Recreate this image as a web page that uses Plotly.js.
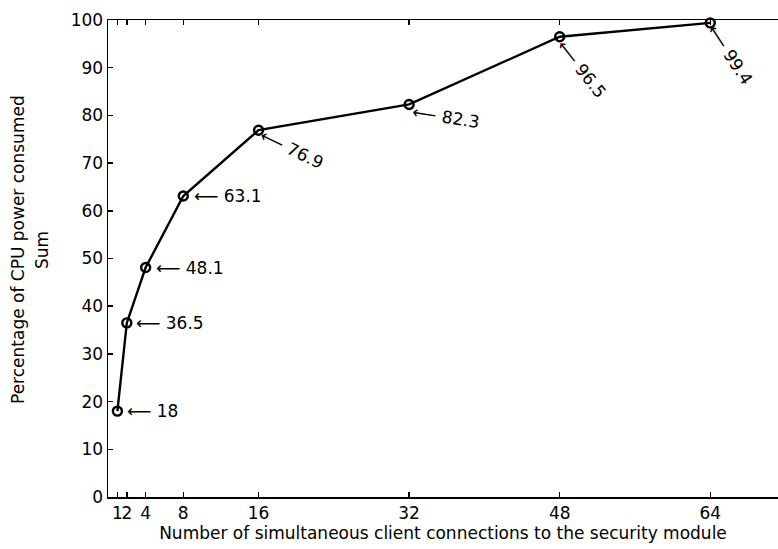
<!DOCTYPE html>
<html>
<head>
<meta charset="utf-8">
<script src="https://cdn.plot.ly/plotly-3.0.1.min.js"></script>
<style>
  html, body { margin: 0; padding: 0; background: #fff; }
  #chart { width: 778px; height: 549px; }
</style>
</head>
<body>
<div id="chart"></div>
<script>
// Client connections vs. CPU power consumed (sum)
const connections = [1, 2, 4, 8, 16, 32, 48, 64];
const cpuPercent = [18, 36.5, 48.1, 63.1, 76.9, 82.3, 96.5, 99.4];
const xTickVals = [1, 2, 4, 8, 16, 32, 48, 64];
const xTickText = ['1', '2', '4', '8', '16', '32', '48', '64'];
const yTickVals = [0, 10, 20, 30, 40, 50, 60, 70, 80, 90, 100];
const yTitleLines = ['Percentage of CPU power consumed', 'Sum'];
const xTitle = 'Number of simultaneous client connections to the security module';

// label placement per point: [angle, dx, dy] in pixels from the marker
const labelPlacement = [
  [0, 8, 0], [0, 7, 0], [0, 8, 0], [0, 9, 0],
  [26, 33, 19], [9, 37, 13], [52, 22, 32], [57, 20, 32]
];

const FONT = 'DejaVu Sans, Liberation Sans, Arial, sans-serif';
const FS = 17;
const black = '#000';

const annotations = connections.map((x, i) => {
  const [ang, dx, dy] = labelPlacement[i];
  const txt = '\u27F5 ' + String(cpuPercent[i]);
  const a = {
    x: x, y: cpuPercent[i], xref: 'x', yref: 'y', text: txt,
    showarrow: false, yanchor: 'middle',
    xshift: dx, yshift: -dy,
    font: {family: FONT, size: FS, color: black}
  };
  if (ang === 0) {
    a.xanchor = 'left';
  } else {
    a.xanchor = 'center';
    a.textangle = ang;
  }
  return a;
});

// two-line vertical axis caption, one annotation per line
const plotLeft = 108, plotW = 670, plotTop = 20, plotH = 477;
const yTitleX = [18, 42];
yTitleLines.forEach((t, i) => {
  annotations.push({
    xref: 'paper', yref: 'paper',
    x: (yTitleX[i] - plotLeft) / plotW,
    y: 1 - (250 - plotTop) / plotH,
    text: t, showarrow: false, textangle: -90,
    xanchor: 'center', yanchor: 'middle',
    font: {family: FONT, size: FS, color: black}
  });
});

const trace = {
  x: connections,
  y: cpuPercent,
  type: 'scatter',
  mode: 'lines+markers',
  line: {color: black, width: 2.4},
  marker: {symbol: 'circle-open', size: 9, color: black, line: {width: 2.4, color: black}},
  cliponaxis: false,
  showlegend: false,
  hoverinfo: 'skip'
};

const layout = {
  width: 778,
  height: 549,
  margin: {l: plotLeft, r: 0, t: plotTop, b: 549 - plotTop - plotH, pad: 0},
  paper_bgcolor: '#fff',
  plot_bgcolor: '#fff',
  font: {family: FONT, size: FS, color: black},
  showlegend: false,
  xaxis: {
    range: [0, 71.2],
    tickvals: xTickVals,
    ticktext: xTickText,
    tickangle: 0,
    ticks: 'inside',
    ticklen: 5,
    tickwidth: 1.5,
    tickcolor: black,
    showline: true,
    linecolor: black,
    linewidth: 1.5,
    mirror: 'ticks',
    showgrid: false,
    zeroline: false,
    tickfont: {family: FONT, size: FS, color: black},
    title: {text: xTitle, font: {family: FONT, size: FS, color: black}, standoff: 4}
  },
  yaxis: {
    range: [0, 100],
    tickvals: yTickVals,
    ticks: 'inside',
    ticklen: 5,
    tickwidth: 1.5,
    tickcolor: black,
    showline: true,
    linecolor: black,
    linewidth: 1.5,
    mirror: false,
    showgrid: false,
    zeroline: false,
    tickfont: {family: FONT, size: FS, color: black}
  },
  annotations: annotations
};

Plotly.newPlot('chart', [trace], layout, {displayModeBar: false, staticPlot: true});
</script>
</body>
</html>
